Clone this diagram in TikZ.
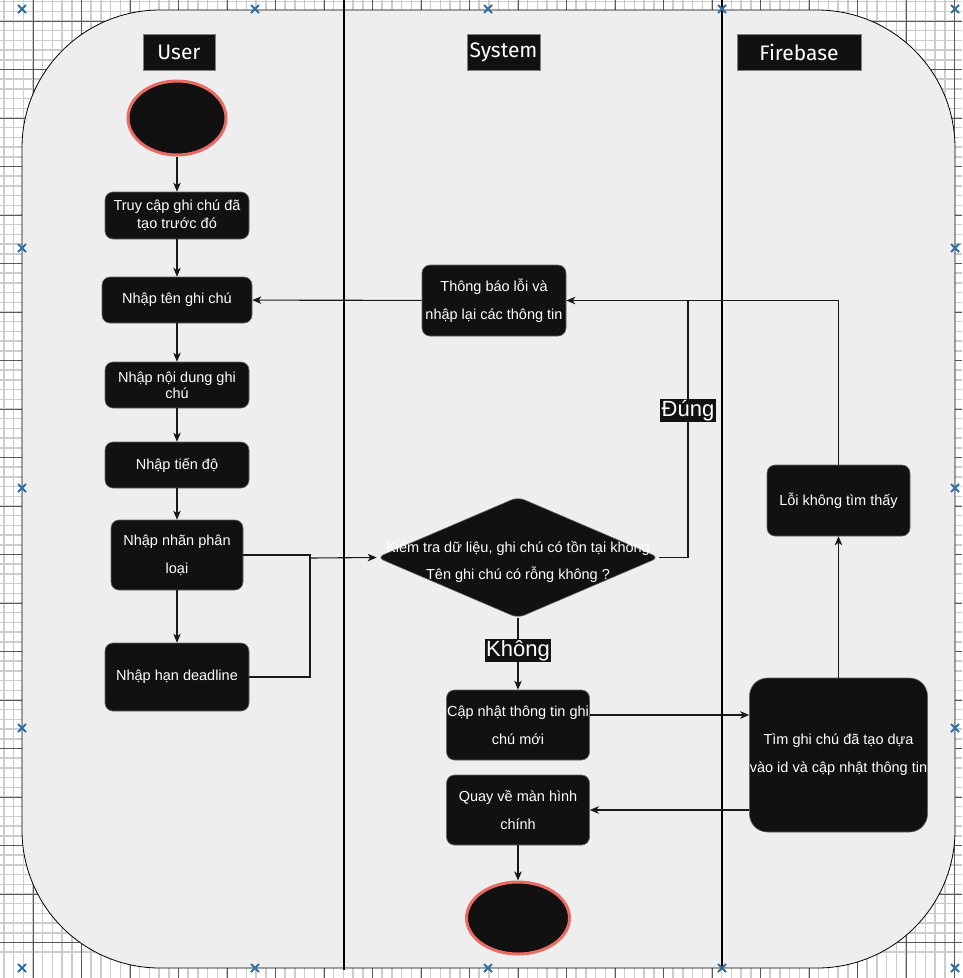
\documentclass[tikz,border=0pt]{standalone}
\usepackage{fontspec}
\setmainfont{Liberation Sans}
\newfontfamily\lanefont{Fira Sans}
\usetikzlibrary{shapes.geometric,arrows.meta}
\definecolor{nen}{HTML}{EEEEEE}
\definecolor{hopden}{HTML}{111111}
\definecolor{viendo}{HTML}{EA6B66}
\definecolor{xanh}{HTML}{2F6EA0}
\begin{document}
\begin{tikzpicture}[x=1pt,y=-1pt,>={Stealth[length=9pt,width=7.5pt,inset=2.5pt]},line width=1.1pt,
	hop/.style={draw=black!60,line width=0.6pt,fill=hopden,text=white,rounded corners=8pt,align=center,inner sep=0pt,font=\fontsize{14.5}{18}\selectfont},
	thua/.style={font=\fontsize{14.5}{28}\selectfont},
	tron/.style={ellipse,draw=viendo,line width=3pt,fill=hopden,inner sep=0pt},
	nhanchu/.style={fill=hopden,text=white,inner sep=1.5pt,font=\fontsize{22}{22}\selectfont},
	lane/.style={fill=hopden,draw=black!50,line width=0.5pt,text=white,inner sep=0pt,minimum height=36,font=\lanefont\fontsize{21}{21}\selectfont},
	ketnoi/.style={draw=black!90,line width=1.1pt},
	luoinho/.style={draw=black!20,line width=1.5pt},
	luoilon/.style={draw=black!65,line width=0.8pt},
	daux/.style={draw=xanh,line width=2pt}]
				\useasboundingbox (0,0) rectangle (962,978);
				\clip (0,0) rectangle (962,978);
				\fill[white] (0,0) rectangle (962,978);
				\foreach \i in {0,...,101} {
					\draw[luoinho] ({-15.5+9.7*\i},0) -- ++(0,978);
					\draw[luoinho] (0,{-27.5+9.7*\i}) -- ++(962,0);
				}
				\foreach \i in {0,...,21} {
					\draw[luoilon] ({-15.5+48.5*\i},0) -- ++(0,978);
					\draw[luoilon] (0,{-27.5+48.5*\i}) -- ++(962,0);
				}
				\draw[fill=nen,line width=0.8pt,rounded corners=138pt] (22,10) rectangle (955,968);
				\draw[line width=2pt] (344,0) -- (344,970);
				\draw[line width=2pt] (722,0) -- (722,970);
				% lanes
				\node[lane,minimum width=72] (user) at (179,52) {User};
				\node[lane,minimum width=73] (system) at (503.5,52) {System};
				\node[lane,minimum width=124] (firebase) at (799,52) {Firebase};
				% user
				\node[tron,minimum width=98,minimum height=74] (batdau) at (177,118) {};
				\node[hop,minimum width=144,minimum height=47] (truycap) at (177,215.5) {Truy cập ghi chú đã\\tạo trước đó};
				\node[hop,minimum width=150,minimum height=46] (ten) at (177,300) {Nhập tên ghi chú};
				\node[hop,font=\fontsize{14.5}{16}\selectfont,minimum width=144,minimum height=46] (noidung) at (177,385) {Nhập nội dung ghi\\chú};
				\node[hop,minimum width=144,minimum height=46] (tiendo) at (177,465) {Nhập tiến độ};
				\node[hop,thua,minimum width=132,minimum height=70] (phanloai) at (177,555) {Nhập nhãn phân\\loại};
				\node[hop,minimum width=144,minimum height=68] (deadline) at (177,677) {Nhập hạn deadline};
				% system
				\node[hop,thua,minimum width=144,minimum height=71] (thongbao) at (494,300.5) {Thông báo lỗi và\\nhập lại các thông tin};
				\node[diamond,fill=hopden,draw=black!60,line width=0.6pt,rounded corners=7pt,minimum width=282,minimum height=121,inner sep=0pt] (kiemtra) at (518,557.5) {};
				\node[text=white,align=center,font=\fontsize{14.5}{27}\selectfont] (cauhoi) at (518,562) {Kiểm tra dữ liệu, ghi chú có tồn tại không\\Tên ghi chú có rỗng không ?};
				\node[hop,thua,minimum width=143,minimum height=70] (capnhat) at (518,725) {Cập nhật thông tin ghi\\chú mới};
				\node[hop,thua,minimum width=143,minimum height=70] (quayve) at (518,810) {Quay về màn hình\\chính};
				\node[tron,minimum width=103,minimum height=72] (ketthuc) at (518,918) {};
				% firebase
				\node[hop,minimum width=143,minimum height=71] (loi) at (838.5,500.5) {Lỗi không tìm thấy};
				\node[hop,thua,rounded corners=18pt,minimum width=178,minimum height=154] (timghichu) at (838.5,755) {Tìm ghi chú đã tạo dựa\\vào id và cập nhật thông tin};
				\coordinate (gop) at (310,558);
				\coordinate (dung) at (688,300.5);
				% connectors
				\draw[ketnoi,->] (batdau) -- (truycap);
				\draw[ketnoi,->] (truycap) -- (ten);
				\draw[ketnoi,->] (ten) -- (noidung);
				\draw[ketnoi,->] (noidung) -- (tiendo);
				\draw[ketnoi,->] (tiendo) -- (phanloai);
				\draw[ketnoi,->] (phanloai) -- (deadline);
				\draw[ketnoi] (phanloai.east) -| (gop);
				\draw[ketnoi] (deadline.east) -| (gop);
				\draw[ketnoi,->] (gop) -- (kiemtra.west);
				\draw[ketnoi] (kiemtra.east) -| (dung);
				\draw[ketnoi,->] (loi.north) |- (thongbao.east);
				\draw[ketnoi,->] (thongbao) -- (ten);
				\draw[ketnoi,->] (kiemtra) -- (capnhat);
				\draw[ketnoi,->] ([yshift=10pt]capnhat.east) -- ([yshift=10pt]capnhat.east -| timghichu.west);
				\draw[ketnoi,->] (timghichu) -- (loi);
				\draw[ketnoi,->] (timghichu.west |- quayve.east) -- (quayve.east);
				\draw[ketnoi,->] (quayve) -- (ketthuc);
				\node[nhanchu] (nhandung) at (688,410.5) {Đúng};
				\node[nhanchu] (nhankhong) at (518,650.5) {Không};
				% markers
				\foreach \x in {22,255,488,722,955} {
					\draw[daux] (\x-4,5) -- (\x+4,13) (\x-4,13) -- (\x+4,5);
					\draw[daux] (\x-4,964) -- (\x+4,972) (\x-4,972) -- (\x+4,964);
				}
				\foreach \y in {248,488,728} {
					\draw[daux] (18,\y-4) -- (26,\y+4) (18,\y+4) -- (26,\y-4);
					\draw[daux] (951,\y-4) -- (959,\y+4) (951,\y+4) -- (959,\y-4);
				}
			\end{tikzpicture}
\end{document}
